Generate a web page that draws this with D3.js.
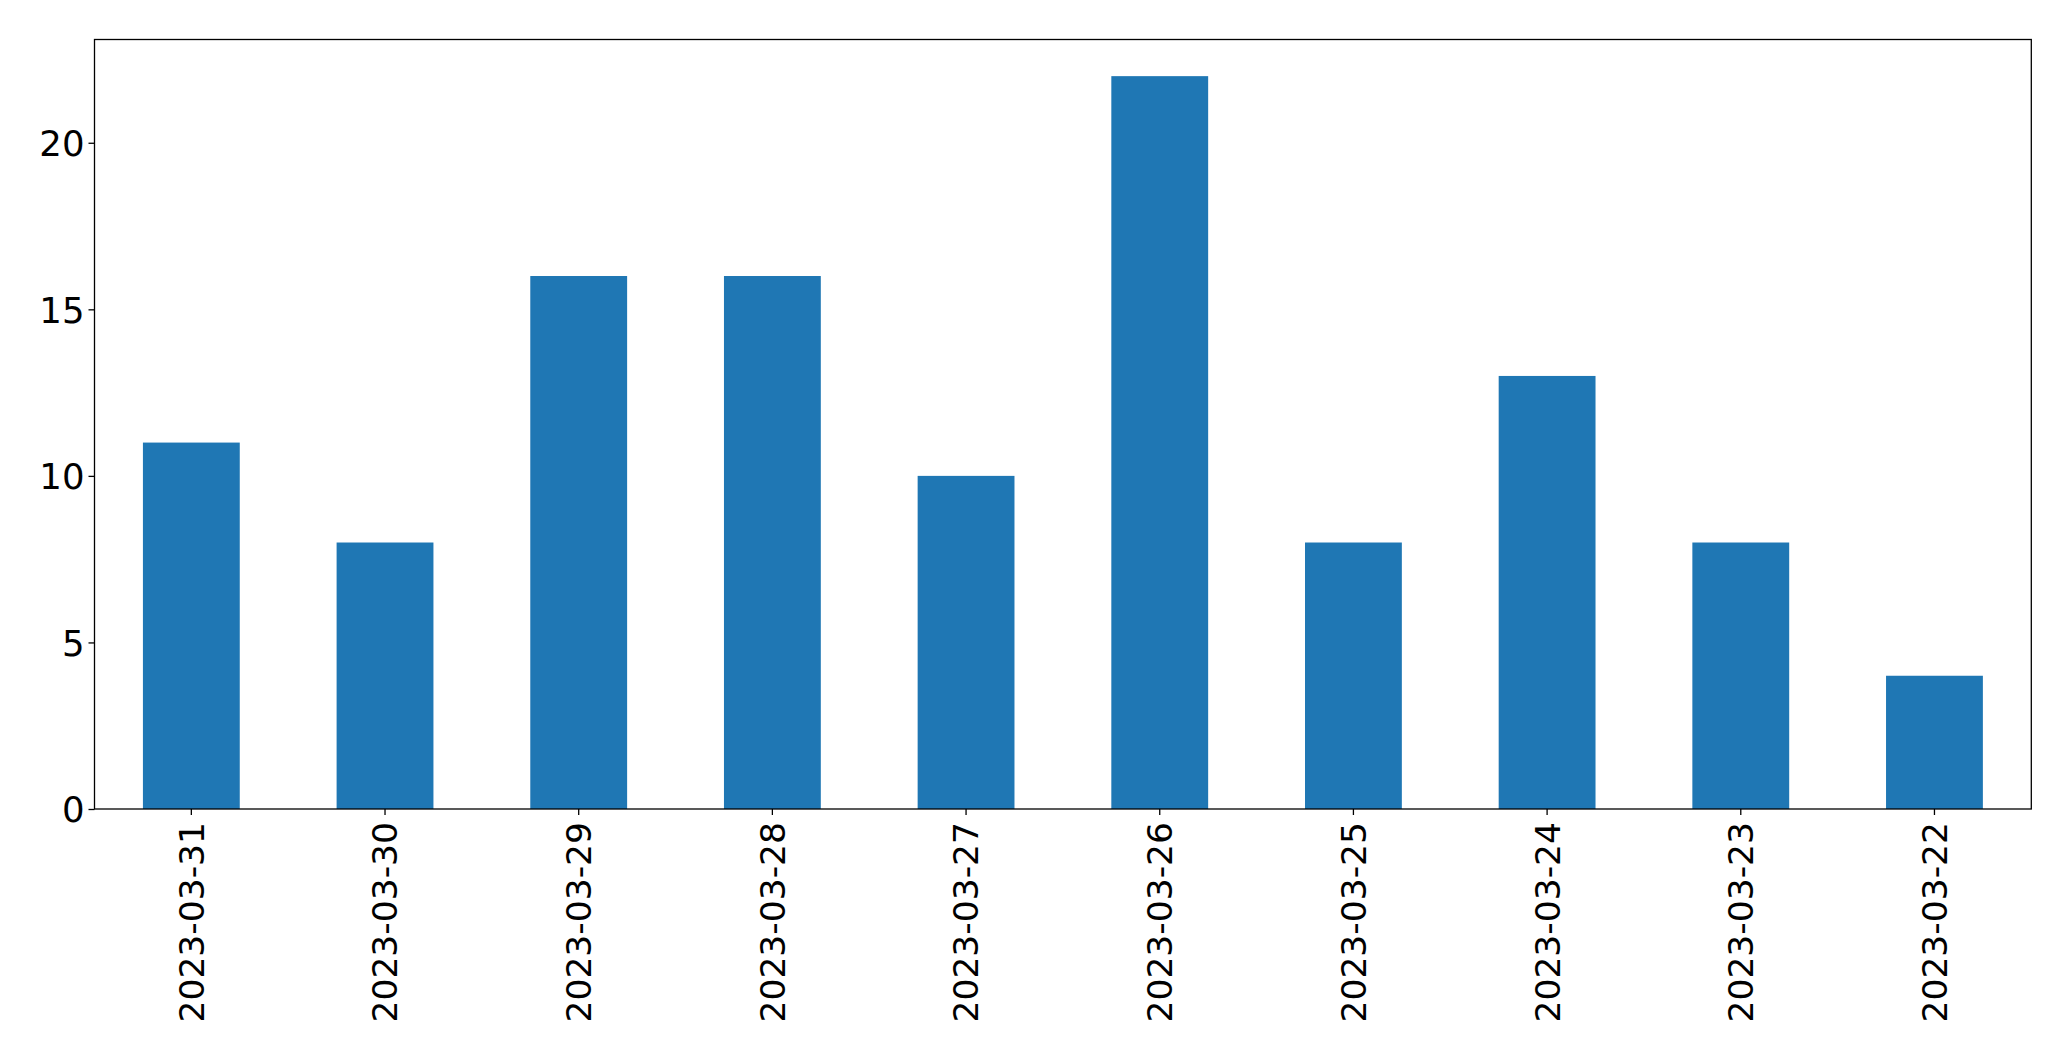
<!DOCTYPE html>
<html>
<head>
<meta charset="utf-8">
<script src="https://cdn.jsdelivr.net/npm/d3@7"></script>
<style>
  body { margin: 0; background: #fff; }
  svg { display: block; }
  text { font-family: "DejaVu Sans", sans-serif; fill: #000; }
</style>
</head>
<body>
<div id="chart"></div>
<script>
const dates = ["2023-03-31", "2023-03-30", "2023-03-29", "2023-03-28", "2023-03-27",
               "2023-03-26", "2023-03-25", "2023-03-24", "2023-03-23", "2023-03-22"];
const counts = [11, 8, 16, 16, 10, 22, 8, 13, 8, 4];
const yTicks = [0, 5, 10, 15, 20];

const
  width = 2071,
  height = 1061,
  margin = { top: 39.5, right: 39.7, bottom: 252, left: 94.5 },
  innerW = width - margin.left - margin.right,
  innerH = height - margin.top - margin.bottom;

const svg = d3.select("#chart").append("svg")
  .attr("width", width)
  .attr("height", height);

const chart = svg.append("g")
  .attr("transform", `translate(${margin.left}, ${margin.top})`);

const x = d3.scaleBand()
  .domain(dates)
  .range([0, innerW])
  .paddingInner(0.5)
  .paddingOuter(0.25);

const y = d3.scaleLinear()
  .domain([0, d3.max(counts) * 1.05])
  .range([innerH, 0]);

chart.selectAll(".bar")
  .data(dates)
  .enter().append("rect")
  .attr("class", "bar")
  .attr("x", d => x(d))
  .attr("width", x.bandwidth())
  .attr("y", (d, i) => y(counts[i]))
  .attr("height", (d, i) => innerH - y(counts[i]))
  .attr("fill", "#1f77b4");

// y axis
const yAxis = chart.append("g")
  .call(d3.axisLeft(y).tickValues(yTicks).tickSize(6).tickPadding(4));
yAxis.select(".domain").remove();
yAxis.selectAll("text").style("font-size", "35.5px").attr("dy", "0.36em");
yAxis.selectAll("line").attr("stroke-width", 1.3);

// x axis
const xAxis = chart.append("g")
  .attr("transform", `translate(0, ${innerH})`)
  .call(d3.axisBottom(x).tickSize(6).tickPadding(0));
xAxis.select(".domain").remove();
xAxis.selectAll("line").attr("stroke-width", 1.3);
xAxis.selectAll("text")
  .style("font-size", "34.5px")
  .attr("text-anchor", "end")
  .attr("transform", "translate(0, 13) rotate(-90)")
  .attr("x", 0)
  .attr("y", 0)
  .attr("dy", "0.36em");

// frame
chart.append("rect")
  .attr("width", innerW)
  .attr("height", innerH)
  .attr("fill", "none")
  .attr("stroke", "#000")
  .attr("stroke-width", 1.3);
</script>
</body>
</html>
